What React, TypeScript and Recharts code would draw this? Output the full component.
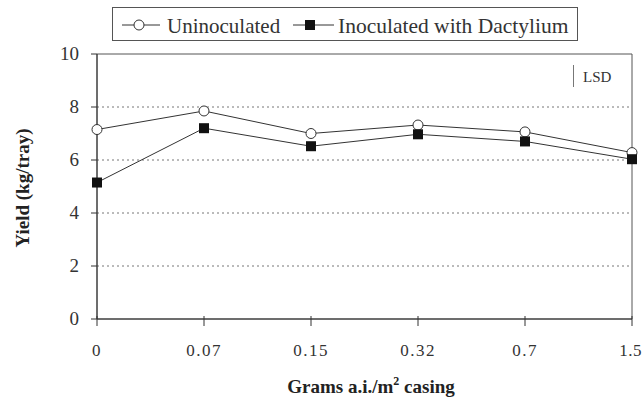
import { LineChart, Line, XAxis, YAxis, CartesianGrid, ReferenceArea } from "recharts";

const doses = ["0", "0.07", "0.15", "0.32", "0.7", "1.5"];
const uninoculated = [7.15, 7.85, 7.0, 7.32, 7.06, 6.28];
const inoculated = [5.15, 7.2, 6.52, 6.97, 6.7, 6.03];
const yTicks = [0, 2, 4, 6, 8, 10];

const data = doses.map((d, i) => ({
  dose: d,
  uninoculated: uninoculated[i],
  inoculated: inoculated[i],
}));

const serif = { fontFamily: "Liberation Serif" };
const ink = "#333";

function XTick(props: any) {
  const { x, y, payload, index } = props;
  const last = index === doses.length - 1;
  return (
    <g>
      <line x1={x} x2={x} y1={y - 5} y2={y + 5} stroke={ink} />
      <text
        x={last ? 642 : x}
        y={y + 35}
        textAnchor={last ? "end" : "middle"}
        style={serif}
        fontSize={17}
        letterSpacing={last ? 0.5 : 1.5}
        fill={ink}
      >
        {payload.value}
      </text>
    </g>
  );
}

function YTick(props: any) {
  const { x, y, payload } = props;
  return (
    <text x={x} y={y + 6} textAnchor="end" style={serif} fontSize={19} fill={ink}>
      {payload.value}
    </text>
  );
}

function SquareDot(props: any) {
  const { cx, cy } = props;
  if (cx == null || cy == null) return null;
  return <rect x={cx - 5} y={cy - 5} width={10} height={10} fill="#111" />;
}

export default function App() {
  return (
    <div style={{ position: "absolute", left: 0, top: 0, background: "#fff" }}>
      <LineChart
        width={643}
        height={406}
        data={data}
        margin={{ top: 54, right: 11, bottom: 0, left: 0 }}
      >
        <CartesianGrid stroke="#777" strokeDasharray="2 3" vertical={false} horizontalValues={[2, 4, 6, 8]} />
        <ReferenceArea x1="0" x2="1.5" y1={0} y2={10} fill="none" stroke="#555" strokeWidth={1} />
        <XAxis
          dataKey="dose"
          height={87}
          stroke={ink}
          tickLine={false}
          tickSize={0}
          tick={<XTick />}
          interval={0}
        />
        <YAxis
          width={97}
          domain={[0, 10]}
          ticks={yTicks}
          stroke={ink}
          tickSize={6}
          tickMargin={12}
          tick={<YTick />}
        />
        <Line
          dataKey="uninoculated"
          name="Uninoculated"
          stroke={ink}
          strokeWidth={1}
          dot={{ r: 5, fill: "#fff", stroke: ink, strokeWidth: 1 }}
          isAnimationActive={false}
        />
        <Line
          dataKey="inoculated"
          name="Inoculated with Dactylium"
          stroke={ink}
          strokeWidth={1}
          dot={<SquareDot />}
          isAnimationActive={false}
        />
      </LineChart>
      <svg width={643} height={406} style={{ position: "absolute", left: 0, top: 0, pointerEvents: "none" }}>
        {/* legend */}
        <g transform="translate(112 7)">
          <rect x={0.5} y={0.5} width={465} height={33} fill="#fff" stroke="#555" />
          <line x1={10} x2={48} y1={18} y2={18} stroke={ink} />
          <circle cx={27} cy={18} r={5} fill="#fff" stroke={ink} />
          <text x={55} y={26} fontSize={21} fill={ink} style={serif}>
            Uninoculated
          </text>
          <line x1={181} x2={222} y1={18} y2={18} stroke={ink} />
          <rect x={193} y={13} width={10} height={10} fill="#111" />
          <text x={226} y={26} fontSize={21.5} fill={ink} style={serif}>
            Inoculated with Dactylium
          </text>
        </g>
        <text
          x={29}
          y={188}
          transform="rotate(-90 29 188)"
          textAnchor="middle"
          fontSize={19}
          fontWeight="bold"
          fill="#222"
          style={serif}
        >
          Yield (kg/tray)
        </text>
        <text x={371} y={393} textAnchor="middle" fontSize={19} fontWeight="bold" fill="#222" style={serif}>
          Grams a.i./m
          <tspan fontSize={12} dy={-8}>2</tspan>
          <tspan dy={8}> casing</tspan>
        </text>
        <line x1={573.5} x2={573.5} y1={65} y2={87} stroke="#777" />
        <text x={583} y={82} fontSize={15} fill={ink} style={serif}>LSD</text>
      </svg>
    </div>
  );
}
